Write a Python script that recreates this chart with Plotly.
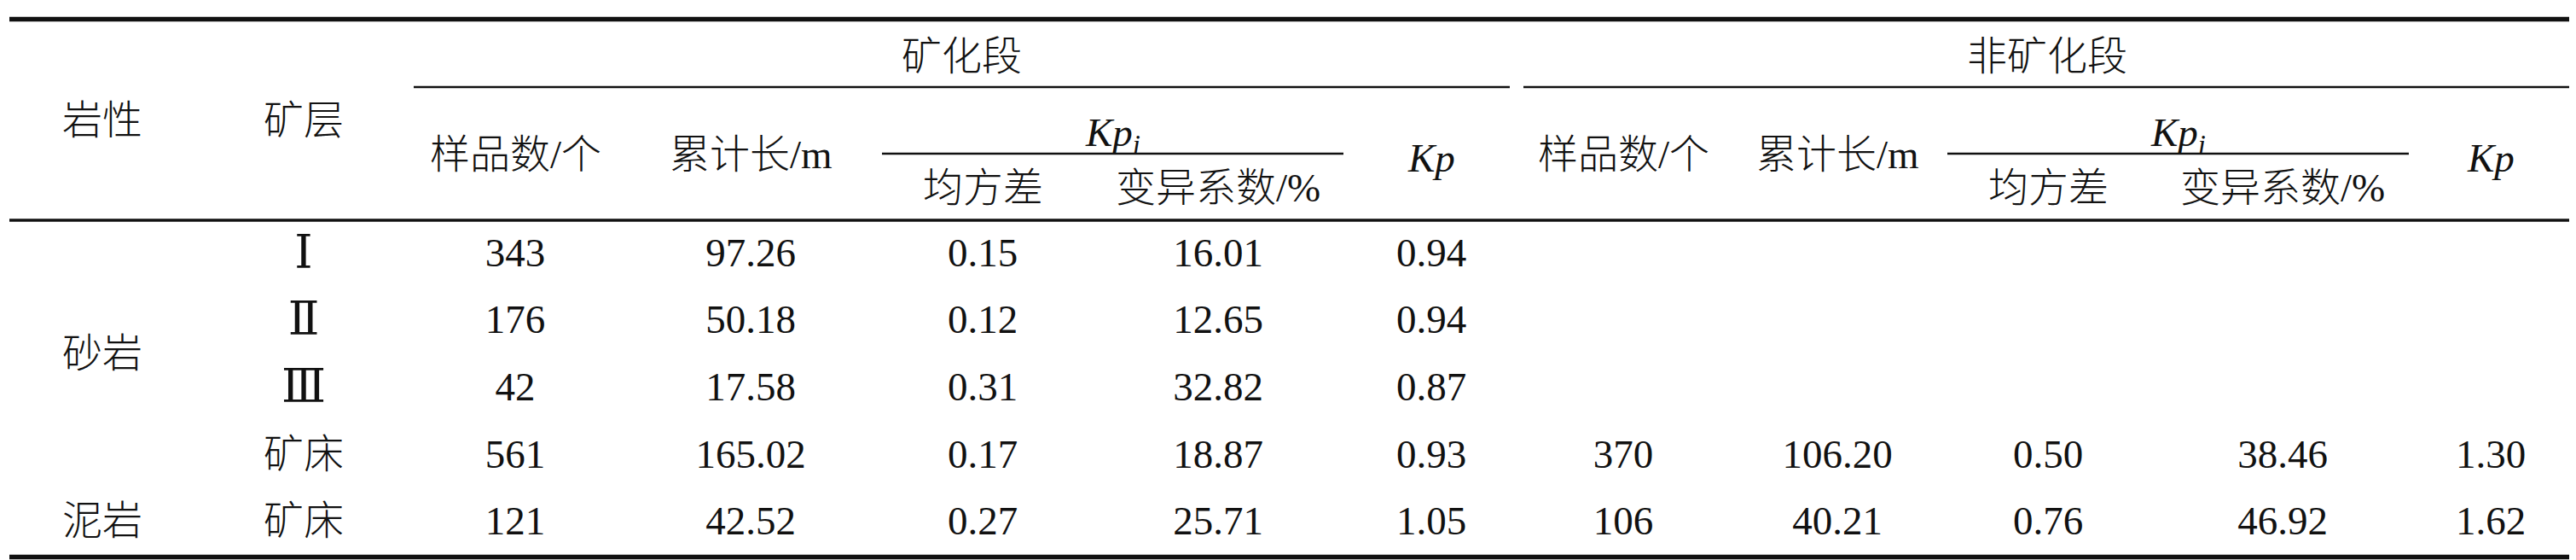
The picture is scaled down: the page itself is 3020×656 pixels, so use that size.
import plotly.graph_objects as go

# table values
lithology = ["砂岩", "泥岩"]
lithology_rows = [(0, 3), (4, 4)]  # first/last body row each label spans
layers = ["Ⅰ", "Ⅱ", "Ⅲ", "矿床", "矿床"]

min_samples = [343, 176, 42, 561, 121]
min_length = [97.26, 50.18, 17.58, 165.02, 42.52]
min_std = [0.15, 0.12, 0.31, 0.17, 0.27]
min_cv = [16.01, 12.65, 32.82, 18.87, 25.71]
min_kp = [0.94, 0.94, 0.87, 0.93, 1.05]

non_samples = [None, None, None, 370, 106]
non_length = [None, None, None, 106.20, 40.21]
non_std = [None, None, None, 0.50, 0.76]
non_cv = [None, None, None, 38.46, 46.92]
non_kp = [None, None, None, 1.30, 1.62]

group_titles = ["矿化段", "非矿化段"]
sub_titles = ["样品数/个", "累计长/m", "<i>Kp<sub>i</sub></i>", "<i>Kp</i>"]
kpi_titles = ["均方差", "变异系数/%"]

# layout (pixels)
W, H = 3020, 656
col_x = [112, 348, 596, 872, 1144, 1420, 1670, 1895, 2146, 2393, 2668, 2912]
row_y0, row_h = 292, 78.6
group_spans = [(477, 1762), (1778, 3006)]
kpi_spans = [(1026, 1567), (2275, 2816)]

FONT = "Liberation Serif, 'Times New Roman', DejaVu Serif, 'Noto Sans CJK SC', serif"
FS = 47
INK = "#111111"


def fmt(v, dec=2):
    return f"{v:.{dec}f}" if dec else f"{int(v)}"


row_y = [row_y0 + i * row_h for i in range(len(layers))]

fig = go.Figure()


def text_col(x, ys, texts, size=FS, weight=300):
    fig.add_trace(go.Scatter(
        x=[x] * len(texts), y=ys, text=texts,
        mode="text", textposition="middle center",
        textfont=dict(family=FONT, size=size, color=INK, weight=weight),
        hoverinfo="skip", showlegend=False,
    ))


# layer column: roman numerals drawn a little larger, as in the reference
roman = [i for i, t in enumerate(layers) if t in ("Ⅰ", "Ⅱ", "Ⅲ")]
other = [i for i in range(len(layers)) if i not in roman]
text_col(col_x[1], [row_y[i] for i in roman], [layers[i] for i in roman], size=54)
text_col(col_x[1], [row_y[i] for i in other], [layers[i] for i in other])

columns = [
    (min_samples, 0), (min_length, 2), (min_std, 2), (min_cv, 2), (min_kp, 2),
    (non_samples, 0), (non_length, 2), (non_std, 2), (non_cv, 2), (non_kp, 2),
]
for ci, (vals, dec) in enumerate(columns, start=2):
    idx = [i for i, v in enumerate(vals) if v is not None]
    text_col(col_x[ci], [row_y[i] for i in idx], [fmt(vals[i], dec) for i in idx])

# lithology labels centred on the rows they span
text_col(col_x[0], [(row_y[a] + row_y[b]) / 2 for a, b in lithology_rows], lithology)


def label(x, y, t):
    fig.add_annotation(x=x, y=y, text=t, showarrow=False, xref="x", yref="y",
                       xanchor="center", yanchor="middle",
                       font=dict(family=FONT, size=FS, color=INK, weight=300))


label(col_x[0], 133, "岩性")
label(col_x[1], 133, "矿层")
for g, (a, b) in enumerate(group_spans):
    label((a + b) / 2, 58, group_titles[g])
    base = 2 + g * 5
    label(col_x[base], 173, sub_titles[0])
    label(col_x[base + 1], 173, sub_titles[1])
    ka, kb = kpi_spans[g]
    label((ka + kb) / 2, 150, sub_titles[2])
    label(col_x[base + 2], 212, kpi_titles[0])
    label(col_x[base + 3], 212, kpi_titles[1])
    label(col_x[base + 4], 177, sub_titles[3])


# rules
def rule(x0, x1, y, w):
    fig.add_shape(type="line", x0=x0, x1=x1, y0=y, y1=y, xref="x", yref="y",
                  line=dict(color=INK, width=w))


rule(3, 3006, 14.5, 5.5)
for a, b in group_spans:
    rule(a, b, 94, 2.3)
for a, b in kpi_spans:
    rule(a, b, 172, 2.3)
rule(3, 3006, 250, 3.5)
rule(3, 3006, 644.5, 5.5)

fig.update_layout(
    width=W, height=H,
    margin=dict(l=0, r=0, t=0, b=0),
    paper_bgcolor="white", plot_bgcolor="white",
    xaxis=dict(range=[0, W], visible=False, fixedrange=True),
    yaxis=dict(range=[H, 0], visible=False, fixedrange=True),
)

fig.write_html("out.html", config={"displayModeBar": False})
